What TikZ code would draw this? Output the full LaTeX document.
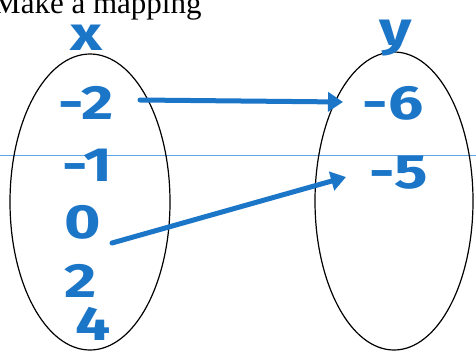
\documentclass[tikz,border=0pt]{standalone}
\usepackage{fontspec}
\setmainfont{Liberation Serif}
\newfontfamily\hand[FakeStretch=1.3]{Fira Sans}
\usetikzlibrary{shapes.geometric,arrows.meta,calc}
\definecolor{marker}{RGB}{28,118,200}
\definecolor{scanline}{RGB}{95,165,230}
\tikzset{
  setoval/.style={ellipse, draw=black, line width=1.2pt, inner sep=0pt},
  hw/.style={text=marker, font=\hand\bfseries\fontsize{48}{48}\selectfont, inner sep=0pt, anchor=center},
  maparrow/.style={draw=marker, line width=5pt, line cap=round, -{Triangle[length=15pt,width=19pt]}}
}
\begin{document}
\begin{tikzpicture}[x=1pt,y=-1pt]
\useasboundingbox (0,0) rectangle (476,354);
\fill[white] (0,0) rectangle (476,354);
% scan line
\coordinate (sl) at (0,155);
\coordinate (sr) at (476,155);
\draw[scanline, line width=0.9pt] (sl) -- (sr);
% title
\node[anchor=base west, inner sep=0pt, font=\fontsize{31}{31}\selectfont] (title) at (-7,13) {Make a mapping};
% sets
\node[setoval, minimum width=160pt, minimum height=296pt] (dom) at (90,202) {};
\node[setoval, minimum width=158pt, minimum height=298pt] (ran) at (394,201) {};
% labels
\node[hw] (xl) at (86,38) {x};
\node[hw] (yl) at (396,38) {y};
\node[hw] (m2) at (86,103) {-2};
\node[hw] (m1) at (87,165) {-1};
\node[hw] (z0) at (83,222) {0};
\node[hw] (p2) at (81,281) {2};
\node[hw] (p4) at (93,324) {4};
\node[hw] (n6) at (393,103) {-6};
\node[hw] (n5) at (399,173) {-5};
% arrows
\draw[maparrow] ($(m2.center)+(54,-3)$) -- ($(n6.center)+(-50,-1)$);
\draw[maparrow] ($(z0.center)+(29,21)$) -- ($(n5.center)+(-53,4)$);
\end{tikzpicture}
\end{document}
